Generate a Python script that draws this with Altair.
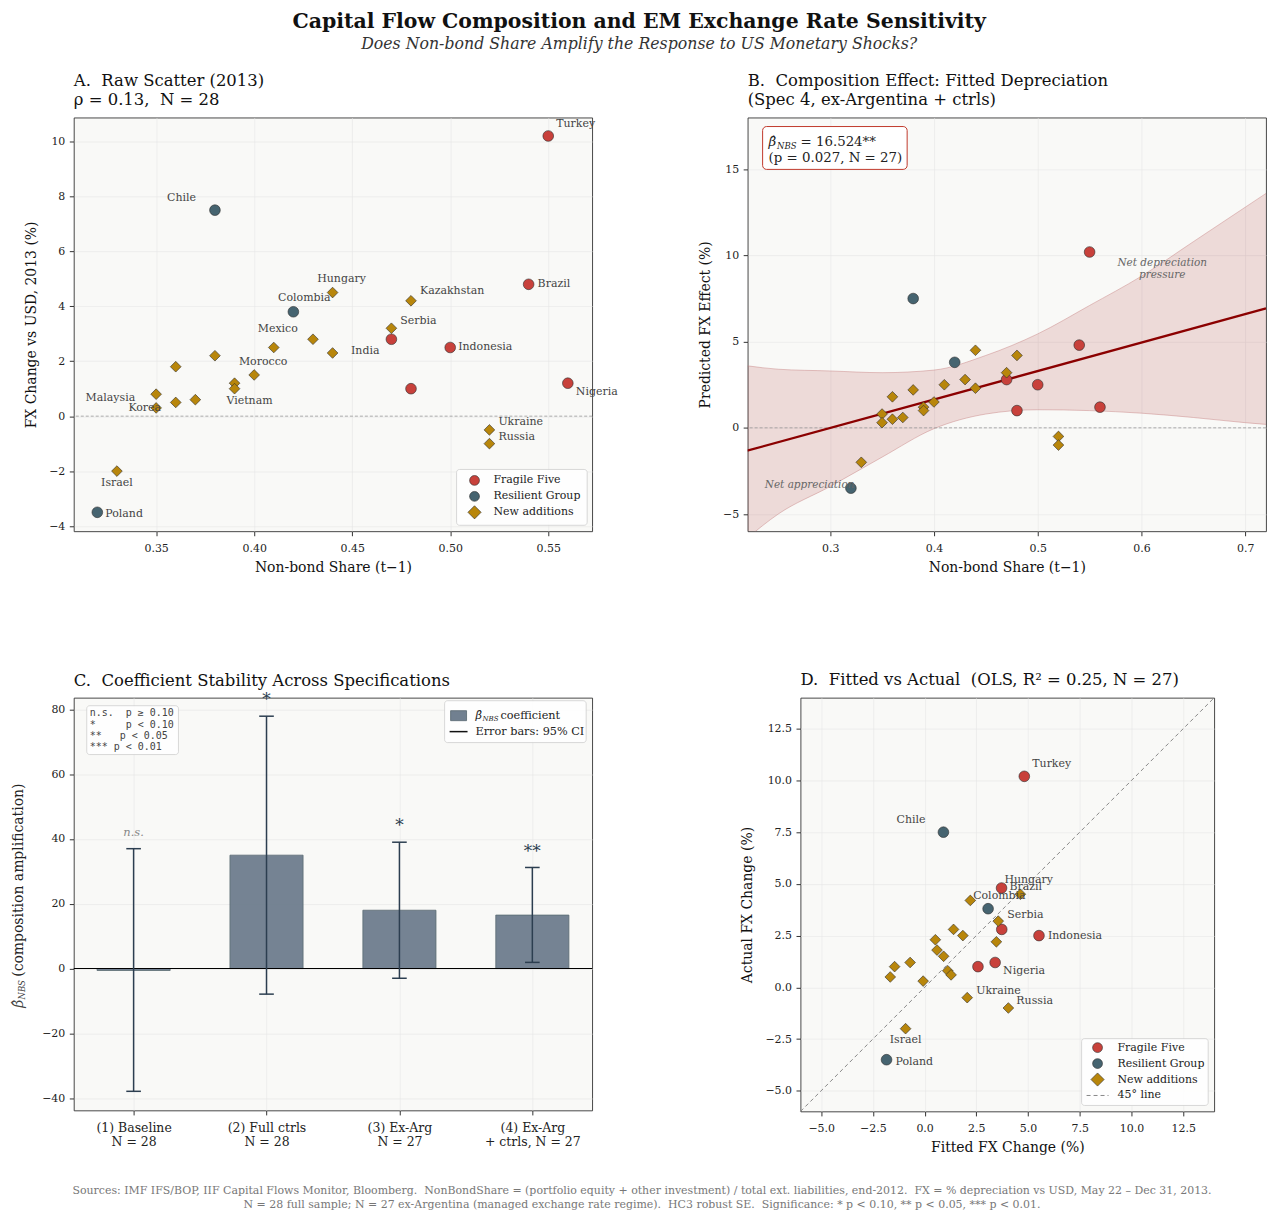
import altair as alt
import pandas as pd

SERIF = "DejaVu Serif"
MONO = "DejaVu Sans Mono"
INK = "#222222"
NB = "\u00a0"

# ---------------- data ----------------
country = ["Turkey", "Brazil", "India", "Indonesia", "", "Nigeria",
           "Chile", "Colombia", "Poland",
           "Hungary", "Kazakhstan", "Serbia", "Mexico", "", "", "", "",
           "Morocco", "", "Vietnam", "Malaysia", "", "", "Korea",
           "Ukraine", "Russia", "Israel"]
group = ["Fragile Five"] * 6 + ["Resilient Group"] * 3 + ["New additions"] * 18
nbs = [0.55, 0.54, 0.47, 0.50, 0.48, 0.56,
       0.38, 0.42, 0.32,
       0.44, 0.48, 0.47, 0.41, 0.43, 0.44, 0.38, 0.36,
       0.40, 0.39, 0.39, 0.35, 0.37, 0.36, 0.35,
       0.52, 0.52, 0.33]
fx = [10.2, 4.8, 2.8, 2.5, 1.0, 1.2,
      7.5, 3.8, -3.5,
      4.5, 4.2, 3.2, 2.5, 2.8, 2.3, 2.2, 1.8,
      1.5, 1.2, 1.0, 0.8, 0.6, 0.5, 0.3,
      -0.5, -1.0, -2.0]
fitted = [4.82, 3.72, 3.73, 5.53, 2.58, 3.41,
          0.91, 3.07, -1.84,
          4.63, 2.21, 3.56, 1.85, 1.40, 0.52, 3.47, 0.60,
          0.92, -0.70, -1.45, 1.12, 1.28, -1.66, -0.07,
          2.06, 4.05, -0.92]

groups = ["Fragile Five", "Resilient Group", "New additions"]
group_fill = ["#c8413b", "#466470", "#b8860b"]
group_shape = ["circle", "circle", "diamond"]
group_size = [115, 115, 205]

# panel B: fitted line and 95% band
fit_x = [0.22, 0.72]
fit_y = [-1.33, 6.93]
band_x = [0.22, 0.25, 0.30, 0.35, 0.40, 0.45, 0.50, 0.55, 0.60, 0.65, 0.70, 0.72]
band_lo = [-6.4, -5.0, -3.4, -1.7, -0.05, 0.8, 1.05, 1.0, 0.85, 0.6, 0.3, 0.2]
band_hi = [3.6, 3.4, 3.3, 3.2, 3.35, 4.2, 5.45, 7.1, 8.8, 10.8, 12.8, 13.6]

# panel C
spec_line1 = ["(1) Baseline", "(2) Full ctrls", "(3) Ex-Arg", "(4) Ex-Arg"]
spec_line2 = ["N = 28", "N = 28", "N = 27", "+ ctrls, N = 27"]
coef = [-0.6, 35.0, 18.0, 16.5]
ci_lo = [-37.9, -7.9, -3.0, 1.9]
ci_hi = [37.0, 77.9, 39.0, 31.2]
sig = ["n.s.", "*", "*", "**"]

# panel D 45-degree line
diag = [-6, 14]

# ---------------- frames ----------------
df = pd.DataFrame({"country": country, "group": group, "nbs": nbs, "fx": fx, "fitted": fitted})
ONE = pd.DataFrame({"k": [0]})
ZERO = pd.DataFrame({"v": [0]})

A_W, A_H, A_X, A_Y = 520, 415, [0.308, 0.5724], [-4.19, 10.87]
B_W, B_H, B_X, B_Y = 520, 415, [0.2205, 0.72], [-6, 18]
C_W, C_H, C_X, C_Y = 520, 414, [-0.45, 3.45], [-43.8, 83.6]
D_W, D_H, D_X, D_Y = 415, 415, [-6, 14], [-6, 14]

LBL = 11
PANEL_BG = alt.ViewBackground(fill="#f9f9f7", stroke="#333333", strokeWidth=0.9)


def nb(s):
    return s.replace(" ", NB)


def sc(dom):
    return alt.Scale(domain=dom, nice=False, zero=False)


def ptitle(lines, offset):
    return alt.TitleParams(text=[nb(t) for t in lines], anchor="start", frame="group", font=SERIF,
                           fontSize=16.5, fontWeight="normal", color="#111", lineHeight=19, offset=offset)


def vtext(txt, x, y, **kw):
    props = dict(font=SERIF, fontSize=LBL, color=INK, align="left", baseline="middle")
    props.update(kw)
    return alt.Chart(ONE).mark_text(text=txt, **props).encode(x=alt.value(x), y=alt.value(y))


def vbox(x1, x2, y1, y2, **kw):
    return alt.Chart(ONE).mark_rect(**kw).encode(
        x=alt.value(x1), x2=alt.value(x2), y=alt.value(y1), y2=alt.value(y2))


def vsym(shape, color, size, x, y):
    return alt.Chart(ONE).mark_point(shape=shape, filled=True, fill=color, size=size,
                                     stroke="#2b2b2b", strokeWidth=0.6, opacity=1).encode(
        x=alt.value(x), y=alt.value(y))


def vline(x1, x2, y, **kw):
    return alt.Chart(ONE).mark_rule(**kw).encode(x=alt.value(x1), x2=alt.value(x2), y=alt.value(y))


def points(xf, yf, xdom, ydom, xax, yax):
    return alt.Chart(df).mark_point(filled=True, opacity=1, stroke="#2b2b2b", strokeWidth=0.6).encode(
        x=alt.X(f"{xf}:Q", scale=sc(xdom), axis=xax),
        y=alt.Y(f"{yf}:Q", scale=sc(ydom), axis=yax),
        fill=alt.Fill("group:N", scale=alt.Scale(domain=groups, range=group_fill), legend=None),
        shape=alt.Shape("group:N", scale=alt.Scale(domain=groups, range=group_shape), legend=None),
        size=alt.Size("group:N", scale=alt.Scale(domain=groups, range=group_size), legend=None),
    )


def labels(xf, yf, offsets, xdom, ydom, W, H, xax, yax):
    kx = (xdom[1] - xdom[0]) / W
    ky = (ydom[1] - ydom[0]) / H
    out = []
    for a in ["left", "center", "right"]:
        rows = []
        for name, (dx, dy, al) in offsets.items():
            if al != a:
                continue
            r = df[df.country == name].iloc[0]
            rows.append({"country": name, "lx": r[xf] + dx * kx, "ly": r[yf] - dy * ky})
        if rows:
            out.append(alt.Chart(pd.DataFrame(rows)).mark_text(
                align=a, baseline="middle", font=SERIF, fontSize=LBL, color="#444").encode(
                x=alt.X("lx:Q", scale=sc(xdom), axis=xax),
                y=alt.Y("ly:Q", scale=sc(ydom), axis=yax),
                text="country:N"))
    return out


def group_legend(x1, x2, y1, y2, sx, tx, ys, extra_line=None):
    lay = [vbox(x1, x2, y1, y2, fill="white", opacity=0.92, stroke="#cccccc",
                strokeWidth=0.8, cornerRadius=3)]
    for g, c, s, sz, yy in zip(groups, group_fill, group_shape, group_size, ys):
        lay.append(vsym(s, c, sz * 0.85, sx, yy))
        lay.append(vtext(g, tx, yy))
    if extra_line is not None:
        lx1, lx2, ly, txt = extra_line
        lay.append(vline(lx1, lx2, ly, color="#888", strokeDash=[4, 3], strokeWidth=1))
        lay.append(vtext(txt, tx, ly))
    return lay


# ---------------- panel A ----------------
axA_x = alt.Axis(values=[0.35, 0.40, 0.45, 0.50, 0.55], format=".2f", title="Non-bond Share (t−1)")
axA_y = alt.Axis(values=[-4, -2, 0, 2, 4, 6, 8, 10], format="d", title="FX Change vs USD, 2013 (%)")
labels_A = {
    "Turkey": (8, -12, "left"), "Chile": (-19, -12, "right"), "Brazil": (9, 0, "left"),
    "Hungary": (9, -14, "center"), "Kazakhstan": (9, -10, "left"), "Colombia": (11, -14, "center"),
    "Serbia": (9, -7, "left"), "India": (-12, 12, "right"), "Indonesia": (8, 0, "left"),
    "Mexico": (4, -19, "center"), "Morocco": (9, -13, "center"), "Vietnam": (15, 12, "center"),
    "Malaysia": (-21, 4, "right"), "Korea": (5, 0, "right"), "Ukraine": (9, -8, "left"),
    "Russia": (9, -7, "left"), "Israel": (0, 12, "center"), "Poland": (8, 2, "left"),
    "Nigeria": (8, 9, "left"),
}
zeroA = alt.Chart(ZERO).mark_rule(color="#999", strokeDash=[3, 2], strokeWidth=0.8).encode(
    y=alt.Y("v:Q", scale=sc(A_Y), axis=axA_y))
panelA = alt.layer(
    zeroA,
    points("nbs", "fx", A_X, A_Y, axA_x, axA_y),
    *labels("nbs", "fx", labels_A, A_X, A_Y, A_W, A_H, axA_x, axA_y),
    *group_legend(384, 515, 353, 409, 402, 421, [364, 380, 396]),
).properties(width=A_W, height=A_H, view=PANEL_BG,
             title=ptitle(["A.  Raw Scatter (2013)", "ρ = 0.13,  N = 28"], 9))

# ---------------- panel B ----------------
axB_x = alt.Axis(values=[0.3, 0.4, 0.5, 0.6, 0.7], format=".1f", title="Non-bond Share (t−1)")
axB_y = alt.Axis(values=[-5, 0, 5, 10, 15], format="d", title="Predicted FX Effect (%)")
band = pd.DataFrame({"bx": band_x, "lo": band_lo, "hi": band_hi})
fitdf = pd.DataFrame({"fx_": fit_x, "fy": fit_y})
bandA = alt.Chart(band).mark_area(color="#b03a3a", opacity=0.16, clip=True, interpolate="monotone").encode(
    x=alt.X("bx:Q", scale=sc(B_X), axis=axB_x), y=alt.Y("lo:Q", scale=sc(B_Y), axis=axB_y), y2="hi:Q")
bandLo = alt.Chart(band).mark_line(color="#c98585", opacity=0.6, strokeWidth=0.8, clip=True,
                                   interpolate="monotone").encode(
    x=alt.X("bx:Q", scale=sc(B_X), axis=axB_x), y=alt.Y("lo:Q", scale=sc(B_Y), axis=axB_y))
bandHi = alt.Chart(band).mark_line(color="#c98585", opacity=0.6, strokeWidth=0.8, clip=True,
                                   interpolate="monotone").encode(
    x=alt.X("bx:Q", scale=sc(B_X), axis=axB_x), y=alt.Y("hi:Q", scale=sc(B_Y), axis=axB_y))
zeroB = alt.Chart(ZERO).mark_rule(color="#999", strokeDash=[3, 2], strokeWidth=0.8).encode(
    y=alt.Y("v:Q", scale=sc(B_Y), axis=axB_y))
fitL = alt.Chart(fitdf).mark_line(color="#8b0000", strokeWidth=2.3, clip=True).encode(
    x=alt.X("fx_:Q", scale=sc(B_X), axis=axB_x), y=alt.Y("fy:Q", scale=sc(B_Y), axis=axB_y))
depTxt = alt.Chart(ONE).mark_text(text=["Net depreciation", "pressure"], font=SERIF, fontSize=10.5,
                                  fontStyle="italic", color="#666", lineHeight=12, align="center",
                                  baseline="middle").encode(
    x=alt.datum(0.62, scale=sc(B_X)), y=alt.datum(9.55, scale=sc(B_Y)))
appTxt = alt.Chart(ONE).mark_text(text="Net appreciation", font=SERIF, fontSize=10.5,
                                  fontStyle="italic", color="#666", align="left",
                                  baseline="middle").encode(
    x=alt.datum(0.237, scale=sc(B_X)), y=alt.datum(-3.3, scale=sc(B_Y)))
panelB = alt.layer(
    bandA, bandLo, bandHi, zeroB, fitL,
    points("nbs", "fx", B_X, B_Y, axB_x, axB_y),
    depTxt, appTxt,
    vbox(15, 160, 9, 52, fill="white", stroke="#c0392b", strokeWidth=1, cornerRadius=4),
    vtext("β\u0302", 21, 25, fontSize=13.4, fontStyle="italic"),
    vtext("NBS", 29.5, 29, fontSize=8.5, fontStyle="italic"),
    vtext(nb("= 16.524**"), 53, 25, fontSize=13.4),
    vtext(nb("(p = 0.027, N = 27)"), 21, 41, fontSize=13.4),
).properties(width=B_W, height=B_H, view=PANEL_BG,
             title=ptitle(["B.  Composition Effect: Fitted Depreciation", "(Spec 4, ex-Argentina + ctrls)"], 9))

# ---------------- panel C ----------------
cdf = pd.DataFrame({"idx": list(range(len(coef))), "coef": coef, "lo": ci_lo, "hi": ci_hi, "sig": sig})
lab_expr = "[" + ",".join("['%s','%s']" % (a, b) for a, b in zip(spec_line1, spec_line2)) + "][datum.value]"
axC_x = alt.Axis(values=list(range(len(coef))), labelExpr=lab_expr, title=None, labelFontSize=12.5,
                 labelLineHeight=14, labelOverlap=False, labelFlush=False, labelPadding=7)
axC_y = alt.Axis(values=[-40, -20, 0, 20, 40, 60, 80], format="d", title=None)
cx = lambda f: alt.X(f"{f}:Q", scale=sc(C_X), axis=axC_x)
cy = lambda f: alt.Y(f"{f}:Q", scale=sc(C_Y), axis=axC_y)
base = alt.Chart(cdf).transform_calculate(
    xl="datum.idx - 0.275", xr="datum.idx + 0.275", cl="datum.idx - 0.055", cr="datum.idx + 0.055")
bars = base.mark_rect(fill="#718090", stroke="#56666f", strokeWidth=0.8, opacity=0.97).encode(
    x=cx("xl"), x2="xr:Q", y=cy("coef"), y2=alt.datum(0))
zeroC = alt.Chart(ZERO).mark_rule(color="#000", strokeWidth=1.1).encode(y=cy("v"))
err = base.mark_rule(color="#2c3e50", strokeWidth=1.5).encode(x=cx("idx"), y=cy("lo"), y2="hi:Q")
capL = base.mark_rule(color="#2c3e50", strokeWidth=1.5).encode(x=cx("cl"), x2="cr:Q", y=cy("lo"))
capH = base.mark_rule(color="#2c3e50", strokeWidth=1.5).encode(x=cx("cl"), x2="cr:Q", y=cy("hi"))
ns = base.transform_filter("datum.sig == 'n.s.'").mark_text(
    font=SERIF, fontSize=11.5, fontStyle="italic", color="#888", dy=-16, baseline="middle").encode(
    x=cx("idx"), y=cy("hi"), text="sig:N")
stars = base.transform_filter("datum.sig != 'n.s.'").mark_text(
    font=SERIF, fontSize=17, color="#2c3e50", dy=-16, baseline="middle").encode(
    x=cx("idx"), y=cy("hi"), text="sig:N")
sig_key = ["n.s.  p ≥ 0.10", "*     p < 0.10", "**   p < 0.05", "*** p < 0.01"]
footer1 = ("Sources: IMF IFS/BOP, IIF Capital Flows Monitor, Bloomberg.  NonBondShare = (portfolio equity + "
           "other investment) / total ext. liabilities, end-2012.  FX = % depreciation vs USD, May 22 – Dec 31, 2013.")
footer2 = ("N = 28 full sample; N = 27 ex-Argentina (managed exchange rate regime).  HC3 robust SE.  "
           "Significance: * p < 0.10, ** p < 0.05, *** p < 0.01.")
panelC = alt.layer(
    bars, zeroC, err, capL, capH, ns, stars,
    vbox(13, 105, 8, 57, fill="white", opacity=0.92, stroke="#cccccc", strokeWidth=0.8, cornerRadius=3),
    *[vtext(nb(t), 16, yy, font=MONO, fontSize=10, color="#444") for t, yy in zip(sig_key, [15, 27, 38, 49])],
    vbox(372, 514, 3, 45, fill="white", opacity=0.92, stroke="#cccccc", strokeWidth=0.8, cornerRadius=3),
    vbox(378, 394, 13, 23, fill="#718090", stroke="#56666f", strokeWidth=0.8),
    vtext("β\u0302", 403, 18, fontSize=11.3, fontStyle="italic"),
    vtext("NBS", 410, 21, fontSize=7, fontStyle="italic"),
    vtext("coefficient", 428, 18, fontSize=11.3),
    vline(377, 395, 34, color="#111", strokeWidth=1.5),
    vtext("Error bars: 95% CI", 403, 34, fontSize=11.3),
    vtext("(composition amplification)", -55, 183, fontSize=14, angle=270, align="center"),
    vtext("NBS", -51.5, 293, fontSize=8.5, angle=270, align="center", fontStyle="italic", color="#444"),
    vtext("β\u0302", -55, 307, fontSize=14, angle=270, align="center", fontStyle="italic", color="#444"),
    vtext(nb(footer1), 570, 495, fontSize=11, color="#777", align="center"),
    vtext(nb(footer2), 570, 509, fontSize=11, color="#777", align="center"),
).properties(width=C_W, height=C_H, view=PANEL_BG,
             title=ptitle(["C.  Coefficient Stability Across Specifications"], 2))

# ---------------- panel D ----------------
tD = [-5.0, -2.5, 0.0, 2.5, 5.0, 7.5, 10.0, 12.5]
axD_x = alt.Axis(values=tD, format=".1f", title="Fitted FX Change (%)")
axD_y = alt.Axis(values=tD, format=".1f", title="Actual FX Change (%)")
labels_D = {
    "Turkey": (8, -12, "left"), "Chile": (-18, -12, "right"), "Hungary": (-16, -14, "left"),
    "Brazil": (8, -1, "left"), "Colombia": (-15, -13, "left"), "Serbia": (9, -6, "left"),
    "Indonesia": (9, 0, "left"), "Nigeria": (8, 9, "left"), "Ukraine": (9, -7, "left"),
    "Russia": (8, -7, "left"), "Israel": (0, 11, "center"), "Poland": (9, 2, "left"),
}
diagdf = pd.DataFrame({"a": diag, "b": diag})
diagL = alt.Chart(diagdf).mark_line(color="#888", strokeDash=[4, 3], strokeWidth=1).encode(
    x=alt.X("a:Q", scale=sc(D_X), axis=axD_x), y=alt.Y("b:Q", scale=sc(D_Y), axis=axD_y))
panelD = alt.layer(
    diagL,
    points("fitted", "fx", D_X, D_Y, axD_x, axD_y),
    *labels("fitted", "fx", labels_D, D_X, D_Y, D_W, D_H, axD_x, axD_y),
    *group_legend(282, 409, 342, 409, 298, 318, [351, 367, 383], extra_line=(287, 309, 399, "45° line")),
).properties(width=D_W, height=D_H, view=PANEL_BG,
             title=ptitle(["D.  Fitted vs Actual  (OLS, R² = 0.25, N = 27)"], 7))

# empty spacer that centres panel D under panel B
spacer = alt.Chart(ONE).mark_point(opacity=0).encode(x=alt.value(0), y=alt.value(0)).properties(
    width=53, height=20, view=alt.ViewBackground(fill="transparent", stroke="transparent"))
cellD = alt.hconcat(spacer, panelD, spacing=0, bounds="flush")

chart = alt.concat(
    panelA, panelB, panelC, cellD, columns=2,
    spacing=alt.RowColnumber(row=167, column=156), bounds="flush", align="all",
).properties(
    title=alt.TitleParams(
        text="Capital Flow Composition and EM Exchange Rate Sensitivity",
        subtitle="Does Non-bond Share Amplify the Response to US Monetary Shocks?",
        anchor="middle", font=SERIF, fontSize=20.5, fontWeight="bold", color="#111",
        subtitleFont=SERIF, subtitleFontSize=15.8, subtitleFontStyle="italic", subtitleColor="#333",
        subtitlePadding=5, offset=21),
    padding={"left": 3, "right": 5, "top": 1, "bottom": 5},
).configure_view(
    stroke="#333333", strokeWidth=0.9, fill="#f9f9f7"
).configure_axis(
    grid=True, gridColor="#e6e6e6", gridWidth=0.6, domain=False, tickColor="#333", tickSize=4.5,
    labelFont=SERIF, labelFontSize=11, labelColor=INK,
    titleFont=SERIF, titleFontSize=14, titleFontWeight="normal", titleColor="#111",
).configure_axisX(labelPadding=7, titlePadding=7
).configure_axisY(labelPadding=4.5, titlePadding=10
).resolve_scale(fill="independent", shape="independent", size="independent")

chart.save("out.html", embed_options={"renderer": "svg", "actions": False})
